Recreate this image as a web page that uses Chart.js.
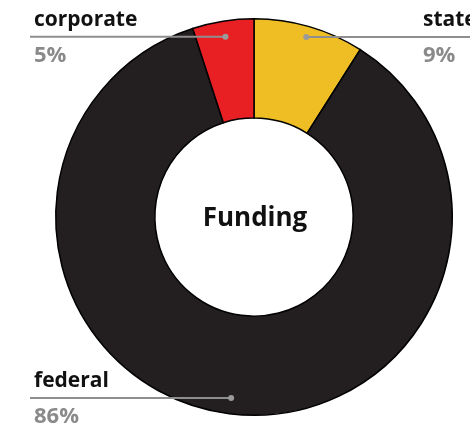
<!DOCTYPE html>
<html>
<head>
<meta charset="utf-8">
<script src="https://cdn.jsdelivr.net/npm/chart.js@4"></script>
<style>
  html, body { margin: 0; padding: 0; background: #fff; }
  #wrap { width: 470px; height: 426px; position: relative; }
</style>
</head>
<body>
<div id="wrap"><canvas id="chart"></canvas></div>
<script>
const categories = ['state', 'federal', 'corporate'];
const shares = [9, 86, 5];
const shareLabels = ['9%', '86%', '5%'];
const sliceColors = ['#EFBE25', '#231F20', '#E82024'];
const labelSide = ['right', 'left', 'left'];
const centerTitle = 'Funding';

const FONT = '"Open Sans", "DejaVu Sans", sans-serif';
// how far out along the slice the callout dot sits
const dotRadius = [0.945, 0.92, 0.92];

// callout lines, dots and texts for each slice
const calloutPlugin = {
  id: 'callouts',
  afterDraw(chart) {
    const ctx = chart.ctx;
    const meta = chart.getDatasetMeta(0);
    ctx.save();
    meta.data.forEach((arc, i) => {
      const mid = (arc.startAngle + arc.endAngle) / 2;
      const r = arc.outerRadius * dotRadius[i];
      const dx = arc.x + Math.cos(mid) * r;
      const dy = arc.y + Math.sin(mid) * r;
      const right = labelSide[i] === 'right';
      const lineEnd = right ? chart.width : 30;
      const textX = right ? 423 : 34;

      ctx.strokeStyle = '#8E8E8E';
      ctx.lineWidth = 2;
      ctx.beginPath();
      ctx.moveTo(lineEnd, dy);
      ctx.lineTo(dx, dy);
      ctx.stroke();

      ctx.fillStyle = '#9A9A9A';
      ctx.beginPath();
      ctx.arc(dx, dy, 3, 0, Math.PI * 2);
      ctx.fill();

      ctx.textAlign = 'left';
      ctx.textBaseline = 'alphabetic';
      ctx.fillStyle = '#111';
      ctx.font = 'bold 21px ' + FONT;
      ctx.fillText(categories[i], textX, dy - 11);
      ctx.fillStyle = '#8A8A8A';
      ctx.font = 'bold 22px ' + FONT;
      ctx.fillText(shareLabels[i], textX, dy + 25);
    });

    const a = meta.data[0];
    ctx.fillStyle = '#111';
    ctx.font = 'bold 26px ' + FONT;
    ctx.textAlign = 'center';
    ctx.textBaseline = 'middle';
    ctx.fillText(centerTitle, a.x + 1, a.y + 2);
    ctx.restore();
  }
};

new Chart(document.getElementById('chart'), {
  type: 'doughnut',
  data: {
    labels: categories,
    datasets: [{
      data: shares,
      backgroundColor: sliceColors,
      borderColor: '#000',
      borderWidth: 1.5,
      borderJoinStyle: 'miter'
    }]
  },
  options: {
    responsive: true,
    maintainAspectRatio: false,
    animation: false,
    cutout: '50%',
    layout: { padding: { top: 17, bottom: 9, left: 55, right: 17 } },
    plugins: {
      legend: { display: false },
      tooltip: { enabled: false }
    }
  },
  plugins: [calloutPlugin]
});
</script>
</body>
</html>
